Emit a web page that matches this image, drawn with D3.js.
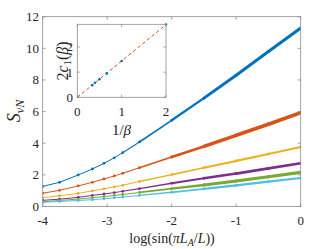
<!DOCTYPE html>
<html><head><meta charset="utf-8">
<script src="https://cdn.jsdelivr.net/npm/d3@7"></script>
<style>body{margin:0;background:#fff}svg{display:block}text{font-family:"Liberation Serif","DejaVu Serif",serif;fill:#262626}</style>
</head><body><svg id="c" width="332" height="249"></svg>
<script>
const xVals = [-4, -3.74, -3.45, -3.23, -3.05, -2.89, -2.76, -2.5, -2.0, -1.5, -1.0, -0.5, 0];
const sBlue   = [1.27, 1.53, 1.99, 2.37, 2.73, 3.08, 3.40, 4.08, 5.45, 6.85, 8.30, 9.80, 11.28];
const sOrange = [0.84, 1.02, 1.30, 1.53, 1.74, 1.93, 2.10, 2.45, 3.13, 3.80, 4.50, 5.20, 5.93];
const sYellow = [0.56, 0.68, 0.83, 0.99, 1.12, 1.24, 1.34, 1.58, 2.02, 2.45, 2.88, 3.32, 3.76];
const sPurple = [0.39, 0.46, 0.58, 0.70, 0.79, 0.88, 0.96, 1.13, 1.47, 1.79, 2.08, 2.41, 2.73];
const sGreen  = [0.30, 0.38, 0.47, 0.55, 0.63, 0.70, 0.76, 0.89, 1.13, 1.36, 1.61, 1.88, 2.16];
const sCyan   = [0.26, 0.32, 0.38, 0.43, 0.49, 0.55, 0.60, 0.70, 0.90, 1.11, 1.34, 1.57, 1.80];
const xTicks = [-4, -3, -2, -1, 0];
const yTicks = [0, 2, 4, 6, 8, 10, 12];
// inset
const invBeta = [1/3, 0.4, 0.5, 2/3, 1, 2];
const twoC1   = [0.48, 0.58, 0.72, 0.95, 1.44, 2.89];
const fitX = [0, 2];
const fitY = [0, 2.885];
const insetXTicks = [0, 1, 2];
const insetYTicks = [0, 1, 2];

const series = [
  {v: sBlue,   c: "#0072BD", w: 3.0},
  {v: sOrange, c: "#D95319", w: 3.6},
  {v: sYellow, c: "#EDB120", w: 2.2},
  {v: sPurple, c: "#7E2F8E", w: 2.6},
  {v: sGreen,  c: "#77AC30", w: 3.2},
  {v: sCyan,   c: "#4DBEEE", w: 2.2}
];

const svg = d3.select("#c");
const axCol = "#8c8c8c";
const L = 42.7, R = 300.7, T = 16.7, B = 206.5;
const x = d3.scaleLinear().domain([-4, 0]).range([L, R]);
const y = d3.scaleLinear().domain([0, 12]).range([B, T]);
const thick = d3.scaleLinear().domain([-2.7, -1.2]).range([0, 1]).clamp(true);

const defs = svg.append("defs");
defs.append("clipPath").attr("id", "clip").append("rect").attr("x", L).attr("y", T).attr("width", R - L).attr("height", B - T);

const g = svg.append("g").attr("clip-path", "url(#clip)");
series.forEach(s => {
  const pts = xVals.map((xv, i) => [xv, s.v[i]]);
  const segs = d3.pairs(pts);
  g.selectAll(null).data(segs).enter().append("line")
    .attr("x1", d => x(d[0][0])).attr("y1", d => y(d[0][1]))
    .attr("x2", d => x(d[1][0])).attr("y2", d => y(d[1][1]))
    .attr("stroke", s.c).attr("stroke-linecap", "round")
    .attr("stroke-width", d => 1 + (s.w - 1) * thick((d[0][0] + d[1][0]) / 2));
  g.selectAll(null).data(pts).enter().append("circle")
    .attr("cx", d => x(d[0])).attr("cy", d => y(d[1])).attr("r", 1.4).attr("fill", s.c);
});

// main axes box and ticks
const ax = svg.append("g");
ax.append("rect").attr("x", L).attr("y", T).attr("width", R - L).attr("height", B - T)
  .attr("fill", "none").attr("stroke", axCol).attr("stroke-width", 0.8);
xTicks.forEach(t => {
  ax.append("line").attr("x1", x(t)).attr("x2", x(t)).attr("y1", B).attr("y2", B - 3).attr("stroke", axCol).attr("stroke-width", 0.8);
  ax.append("line").attr("x1", x(t)).attr("x2", x(t)).attr("y1", T).attr("y2", T + 3).attr("stroke", axCol).attr("stroke-width", 0.8);
  ax.append("text").attr("x", x(t)).attr("y", 224.5).attr("text-anchor", "middle").attr("font-size", 13).text(t);
});
yTicks.forEach(t => {
  ax.append("line").attr("x1", L).attr("x2", L + 3).attr("y1", y(t)).attr("y2", y(t)).attr("stroke", axCol).attr("stroke-width", 0.8);
  ax.append("line").attr("x1", R).attr("x2", R - 3).attr("y1", y(t)).attr("y2", y(t)).attr("stroke", axCol).attr("stroke-width", 0.8);
  ax.append("text").attr("x", 39).attr("y", y(t) + 4.4).attr("text-anchor", "end").attr("font-size", 13).text(t);
});
// x label
const xl = ax.append("text").attr("x", 172).attr("y", 243).attr("text-anchor", "middle").attr("font-size", 14);
xl.append("tspan").text("log(sin(");
xl.append("tspan").attr("font-style", "italic").text("πL");
xl.append("tspan").attr("font-style", "italic").attr("font-size", 10).attr("dy", 3).text("A");
xl.append("tspan").attr("dy", -3).text("/");
xl.append("tspan").attr("font-style", "italic").text("L");
xl.append("tspan").text("))");
// y label
const yl = ax.append("text").attr("transform", "translate(20,111) rotate(-90)").attr("text-anchor", "middle").attr("font-size", 18);
yl.append("tspan").attr("font-style", "italic").text("S");
yl.append("tspan").attr("font-style", "italic").attr("font-size", 12).attr("dy", 4).text("vN");

// inset
const iL = 77.3, iR = 166, iT = 24.3, iB = 97.3;
const ix = d3.scaleLinear().domain([0, 2]).range([iL, iR]);
const iy = d3.scaleLinear().domain([0, 2.9]).range([iB, iT]);
const ins = svg.append("g");
ins.append("rect").attr("x", iL).attr("y", iT).attr("width", iR - iL).attr("height", iB - iT).attr("fill", "#fff");
ins.append("path").attr("d", d3.line().x(d => ix(d[0])).y(d => iy(d[1]))(fitX.map((v, i) => [v, fitY[i]])))
  .attr("stroke", "#D95319").attr("stroke-width", 1).attr("stroke-dasharray", "3.5,2.5").attr("fill", "none");
ins.selectAll(null).data(invBeta.map((v, i) => [v, twoC1[i]])).enter().append("circle")
  .attr("cx", d => ix(d[0])).attr("cy", d => iy(d[1])).attr("r", 1.3).attr("fill", "#0072BD");
ins.append("rect").attr("x", iL).attr("y", iT).attr("width", iR - iL).attr("height", iB - iT)
  .attr("fill", "none").attr("stroke", axCol).attr("stroke-width", 0.8);
insetXTicks.forEach(t => {
  ins.append("line").attr("x1", ix(t)).attr("x2", ix(t)).attr("y1", iB).attr("y2", iB - 2.5).attr("stroke", axCol).attr("stroke-width", 0.8);
  ins.append("line").attr("x1", ix(t)).attr("x2", ix(t)).attr("y1", iT).attr("y2", iT + 2.5).attr("stroke", axCol).attr("stroke-width", 0.8);
  ins.append("text").attr("x", ix(t)).attr("y", 115.5).attr("text-anchor", "middle").attr("font-size", 13).text(t);
});
insetYTicks.forEach(t => {
  ins.append("line").attr("x1", iL).attr("x2", iL + 2.5).attr("y1", iy(t)).attr("y2", iy(t)).attr("stroke", axCol).attr("stroke-width", 0.8);
  ins.append("line").attr("x1", iR).attr("x2", iR - 2.5).attr("y1", iy(t)).attr("y2", iy(t)).attr("stroke", axCol).attr("stroke-width", 0.8);
  ins.append("text").attr("x", 73).attr("y", iy(t) + 4.4).attr("text-anchor", "end").attr("font-size", 13).text(t);
});
const ixl = ins.append("text").attr("x", 121.5).attr("y", 134.5).attr("text-anchor", "middle").attr("font-size", 15);
ixl.append("tspan").text("1/");
ixl.append("tspan").attr("font-style", "italic").text("β");
const iyl = ins.append("text").attr("transform", "translate(68,61) rotate(-90)").attr("text-anchor", "middle").attr("font-size", 16);
iyl.append("tspan").text("2");
iyl.append("tspan").attr("font-style", "italic").text("c");
iyl.append("tspan").attr("font-size", 11).attr("dy", 3).text("1");
iyl.append("tspan").attr("dy", -3).text("(");
iyl.append("tspan").attr("font-style", "italic").text("β");
iyl.append("tspan").text(")");
</script></body></html>
